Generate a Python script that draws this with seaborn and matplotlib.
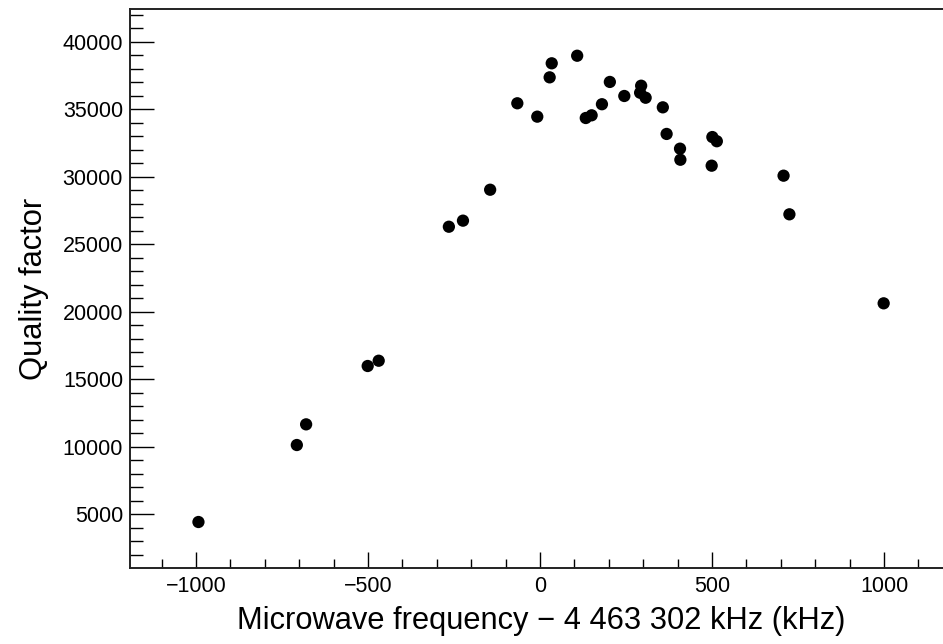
import matplotlib
matplotlib.use("Agg")
import matplotlib.pyplot as plt
import seaborn as sns
import pandas as pd
from matplotlib.ticker import MultipleLocator

freq_offset_khz = [-993, -707, -680, -501, -469, -265, -224, -145, -66, -8,
                   28, 34, 108, 133, 150, 180, 203, 245, 294, 291,
                   307, 357, 368, 407, 408, 501, 514, 499, 708, 725, 999]
quality_factor = [4440, 10140, 11670, 15990, 16380, 26300, 26750, 29040, 35440, 34450,
                  37360, 38400, 38960, 34350, 34550, 35370, 37020, 35980, 36740, 36220,
                  35850, 35140, 33170, 32080, 31260, 32940, 32630, 30820, 30080, 27220, 20630]

x_label = "Microwave frequency \u2212 4 463 302 kHz (kHz)"
y_label = "Quality factor"

df = pd.DataFrame({"x": freq_offset_khz, "y": quality_factor})

sns.set_theme(style="ticks")
plt.rcParams["font.family"] = ["Liberation Sans", "DejaVu Sans"]
plt.rcParams["axes.unicode_minus"] = True
plt.rcParams["text.color"] = "black"
plt.rcParams["axes.labelcolor"] = "black"
plt.rcParams["xtick.color"] = "black"
plt.rcParams["ytick.color"] = "black"

fig = plt.figure(figsize=(9.43, 6.44), dpi=100)
ax = fig.add_axes([130 / 943, 76 / 644, 822.8 / 943, 559 / 644])

sns.scatterplot(data=df, x="x", y="y", ax=ax, s=78, color="black",
                edgecolor="none", linewidth=0, legend=False)

ax.set_xlim(-1192, 1200)
ax.set_ylim(1035, 42420)

ax.xaxis.set_major_locator(MultipleLocator(500))
ax.xaxis.set_minor_locator(MultipleLocator(100))
ax.yaxis.set_major_locator(MultipleLocator(5000))
ax.yaxis.set_minor_locator(MultipleLocator(1000))

ax.tick_params(axis="x", which="major", direction="in", length=11.5, width=1,
               labelsize=15.5, pad=6, top=False, colors="black")
ax.tick_params(axis="x", which="minor", direction="in", length=6.5, width=1, top=False,
               colors="black")
ax.tick_params(axis="y", which="major", direction="in", length=17.3, width=1,
               labelsize=15.5, pad=5, right=False, colors="black")
ax.tick_params(axis="y", which="minor", direction="in", length=9.1, width=1, right=False,
               colors="black")

for side in ["left", "bottom", "top", "right"]:
    ax.spines[side].set_linewidth(1.4)
    ax.spines[side].set_color("#222222")

ax.set_xlabel(x_label, fontsize=22.2, labelpad=6, color="black")
ax.set_ylabel(y_label, fontsize=22.2, labelpad=10, color="black")

fig.savefig("out.png", dpi=100)
